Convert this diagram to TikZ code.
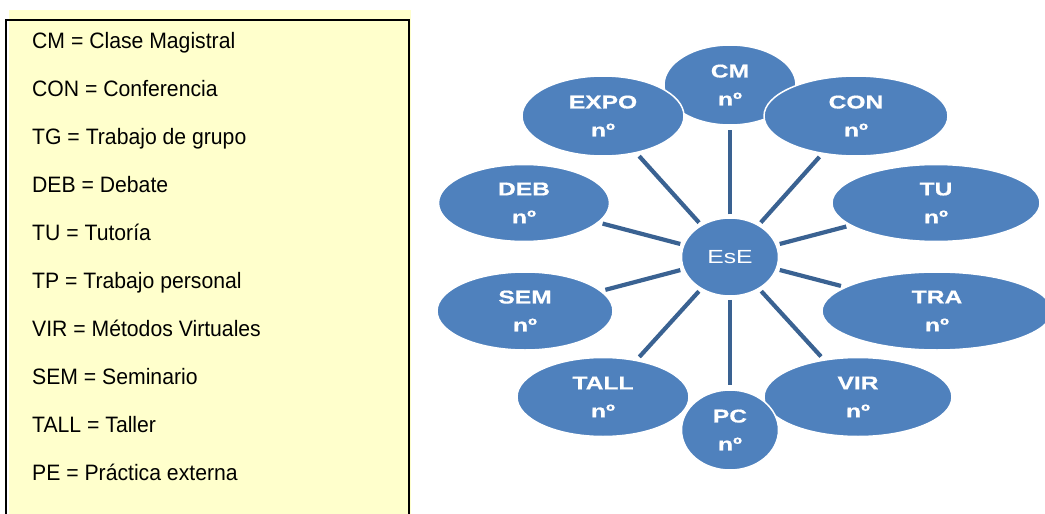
\documentclass[tikz,border=0pt]{standalone}
\usepackage{fontspec}
\setmainfont{Liberation Sans}
\newfontfamily\legendfont[FakeStretch=0.95]{Liberation Sans}
\newfontfamily\bubblefont[FakeStretch=1.3]{Liberation Sans}
\newfontfamily\bubbleboldfont[FakeStretch=1.33,FakeBold=0.6]{Liberation Sans Bold}
\usetikzlibrary{shapes.geometric}
\definecolor{legendyellow}{HTML}{FFFFCC}
\definecolor{bubbleblue}{HTML}{4F81BD}
\definecolor{linkblue}{HTML}{3A6292}
\begin{document}
\begin{tikzpicture}[x=1pt,y=-1pt,
  bubble/.style={ellipse, fill=bubbleblue, draw=white, line width=1.5pt, inner sep=0pt,
    text=white, align=center, font=\bubbleboldfont\fontsize{18.5}{28}\selectfont},
  hub/.style={ellipse, fill=bubbleblue, draw=white, line width=1.5pt, inner sep=0pt,
    text=white, font=\bubblefont\fontsize{19}{22}\selectfont},
  legendtext/.style={anchor=base west, inner sep=0pt, font=\legendfont\fontsize{22.3}{24}\selectfont},
  link/.style={draw=linkblue, line width=4.2pt, shorten <=3pt, shorten >=4pt}]
\useasboundingbox (0,0) rectangle (1045,514);
% legend
\fill[legendyellow] (9,10) rectangle (411,514);
\draw[line width=2.5pt] (6,515) -- (6,20) -- (409,20) -- (409,515);
\node[legendtext] (l1) at (32,48) {CM = Clase Magistral};
\node[legendtext] (l2) at (32,96) {CON = Conferencia};
\node[legendtext] (l3) at (32,144) {TG = Trabajo de grupo};
\node[legendtext] (l4) at (32,192) {DEB = Debate};
\node[legendtext] (l5) at (32,240) {TU = Tutoría};
\node[legendtext] (l6) at (32,288) {TP = Trabajo personal};
\node[legendtext] (l7) at (32,336) {VIR = Métodos Virtuales};
\node[legendtext] (l8) at (32,384) {SEM = Seminario};
\node[legendtext] (l9) at (32,432) {TALL = Taller};
\node[legendtext] (l10) at (32,480) {PE = Práctica externa};
% bubbles
\node[bubble, minimum width=132pt, minimum height=80pt] (cm) at (730,85) {CM\\nº};
\node[bubble, minimum width=162pt, minimum height=80pt] (expo) at (603,116) {EXPO\\nº};
\node[bubble, minimum width=184pt, minimum height=80pt] (con) at (856,116) {CON\\nº};
\node[bubble, minimum width=171pt, minimum height=77pt] (deb) at (524,203) {DEB\\nº};
\node[bubble, minimum width=208pt, minimum height=77pt] (tu) at (936,203) {TU\\nº};
\node[bubble, minimum width=176pt, minimum height=78pt] (sem) at (525,311) {SEM\\nº};
\node[bubble, minimum width=230pt, minimum height=78pt] (tra) at (937,311) {TRA\\nº};
\node[bubble, minimum width=172pt, minimum height=79pt] (tall) at (603,397) {TALL\\nº};
\node[bubble, minimum width=188pt, minimum height=79pt] (vir) at (858,397) {VIR\\nº};
\node[bubble, minimum width=97pt, minimum height=80pt] (pc) at (730,430) {PC\\nº};
\node[hub, minimum width=97pt, minimum height=78pt] (ese) at (730,257) {EsE};
% connectors
\foreach \t in {cm,expo,con,deb,tu,sem,tra,tall,vir,pc}
  \draw[link] (ese) -- (\t);
\end{tikzpicture}
\end{document}
